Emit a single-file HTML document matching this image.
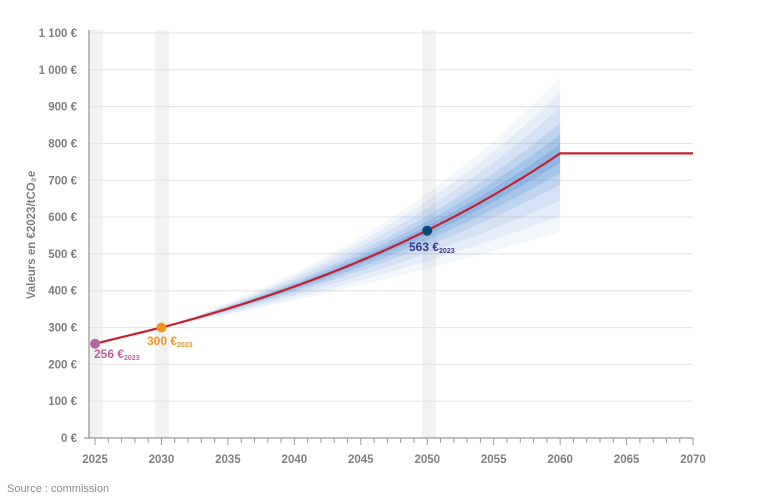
<!DOCTYPE html>
<html><head><meta charset="utf-8"><style>
body{margin:0;background:#fff;}
svg{display:block;font-family:"Liberation Sans",sans-serif;}
</style></head><body>
<svg id="c" width="768" height="500" viewBox="0 0 768 500" xmlns="http://www.w3.org/2000/svg"></svg>
<script>
const s=document.getElementById('c');
const X=y=>95+(y-2025)*13.29, Y=v=>438-v*0.3682;
let h='';
[[88,103],[155,169],[422,436]].forEach(b=>h+=`<rect x="${b[0]}" y="30" width="${b[1]-b[0]}" height="408" fill="#f2f2f2"/>`);
for(let v=100;v<=1100;v+=100){h+=`<line x1="89" x2="693" y1="${Y(v)}" y2="${Y(v)}" stroke="#e6e6e6" stroke-width="1.2"/>`;}
for(let v=0;v<=1100;v+=100){let t=v>=1000?('1 '+String(v-1000).padStart(3,'0')):v;h+=`<text x="77" y="${Y(v)+4}" text-anchor="end" font-size="11.5" font-weight="bold" fill="#7f7f7f">${t} €</text>`;}
h+=`<text transform="translate(35 235) rotate(-90)" text-anchor="middle" font-size="11.5" font-weight="bold" fill="#7f7f7f">Valeurs en €2023/tCO₂e</text>`;
const mid=y=>300*Math.exp(0.03155*(y-2030));
const layers=[[1,0.07],[0.8,0.09],[0.6,0.12],[0.4,0.17],[0.25,0.24],[0.12,0.3]];
layers.forEach(([k,o])=>{let up=[],lo=[];for(let y=2030;y<=2060;y+=0.5){let f=(y-2030)/30,m=mid(y);up.push(X(y).toFixed(1)+','+Y(m*(1+0.268*f*k)).toFixed(1));lo.unshift(X(y).toFixed(1)+','+Y(m*(1-0.276*f*k)).toFixed(1));}
h+=`<polygon points="${up.concat(lo).join(' ')}" fill="#5a94d6" fill-opacity="${o}"/>`;});
let pts=[X(2025)+','+Y(256)];for(let y=2030;y<=2060;y+=0.5)pts.push(X(y).toFixed(1)+','+Y(mid(y)).toFixed(1));pts.push(X(2070)+','+Y(773));
h+=`<polyline points="${pts.join(' ')}" fill="none" stroke="#c8202f" stroke-width="2.2"/>`;
h+=`<line x1="89" x2="89" y1="30" y2="438" stroke="#999" stroke-width="1.2"/>`;
h+=`<line x1="84" x2="693" y1="438" y2="438" stroke="#999" stroke-width="1.2"/>`;
for(let y=2025;y<=2070;y++){let l=(y%5==0)?7:5;h+=`<line x1="${X(y)}" x2="${X(y)}" y1="438" y2="${438+l}" stroke="#999"/>`;}
for(let y=2025;y<=2070;y+=5)h+=`<text x="${X(y)}" y="463" text-anchor="middle" font-size="11.5" font-weight="bold" fill="#7f7f7f">${y}</text>`;
h+=`<circle cx="${X(2025)}" cy="${Y(256)}" r="5" fill="#b8649e"/>`;
h+=`<circle cx="${X(2030)}" cy="${Y(300)}" r="5" fill="#f7941d"/>`;
h+=`<circle cx="${X(2050)}" cy="${Y(563)}" r="5" fill="#0c4a7a"/>`;
h+=`<text x="94" y="358" font-size="12" font-weight="bold" fill="#b8649e">256 €<tspan font-size="7" dy="2">2023</tspan></text>`;
h+=`<text x="147" y="345" font-size="12" font-weight="bold" fill="#f7941d">300 €<tspan font-size="7" dy="2">2023</tspan></text>`;
h+=`<text x="409" y="251" font-size="12" font-weight="bold" fill="#3b3a8f">563 €<tspan font-size="7" dy="2">2023</tspan></text>`;
h+=`<text x="7" y="492" font-size="11" fill="#8c8c8c">Source : commission</text>`;
s.innerHTML=h;
</script>
</body></html>
